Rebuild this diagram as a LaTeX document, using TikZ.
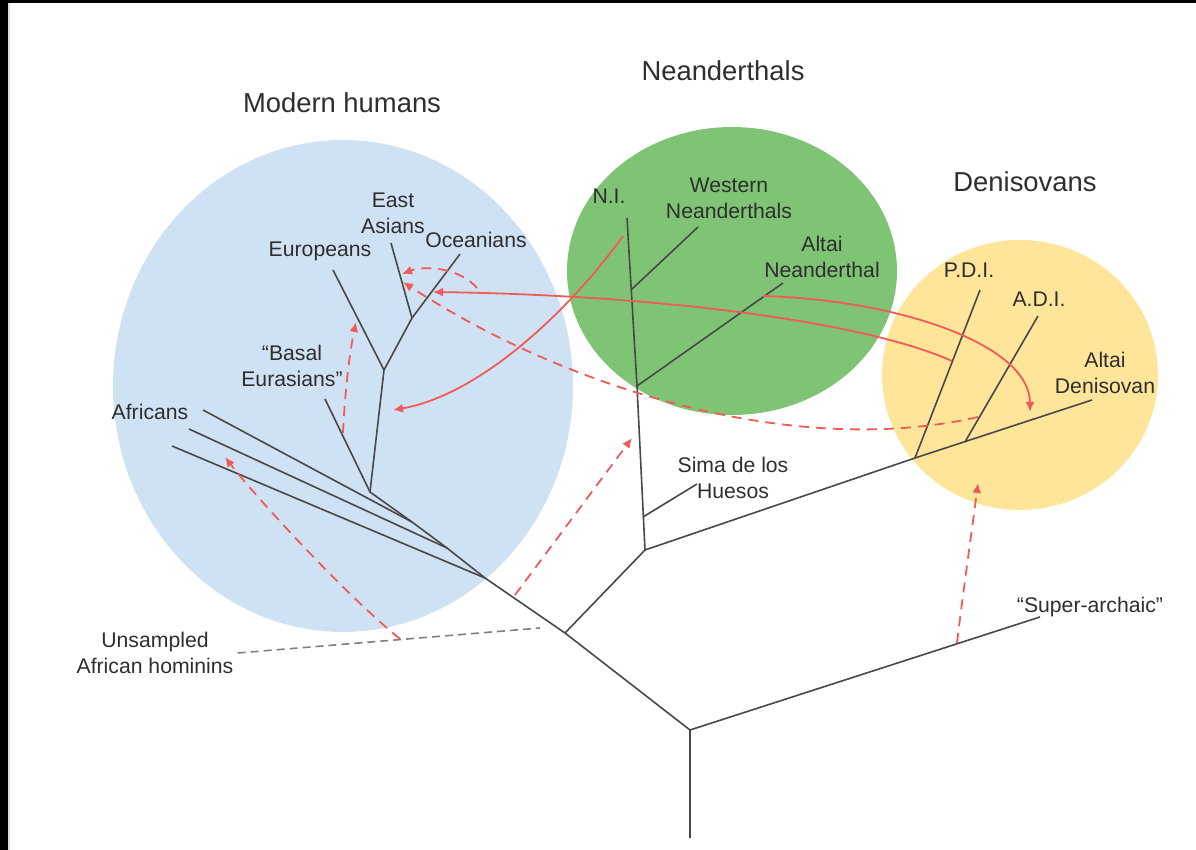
\documentclass[tikz,border=0pt]{standalone}
\usepackage{fontspec}
\setmainfont{Liberation Sans}
\usetikzlibrary{arrows.meta}
\definecolor{mhblue}{HTML}{CFE2F3}
\definecolor{neagreen}{HTML}{7FC474}
\definecolor{denyellow}{HTML}{FFE599}
\definecolor{flowred}{HTML}{F25A5A}
\definecolor{treegray}{HTML}{484848}
\definecolor{labelgray}{HTML}{2E2E2E}

\begin{document}
\begin{tikzpicture}[x=0.5pt, y=-0.5pt, >=Latex,
		branch/.style={draw=treegray, line width=0.8pt},
		flow/.style={->, draw=flowred, line width=0.9pt, >={Latex[length=5pt,width=4.5pt]}},
		ghostflow/.style={flow, dash pattern=on 5pt off 3.5pt},
		group/.style={font=\fontsize{13.7}{16}\selectfont, text=labelgray},
		taxon/.style={font=\fontsize{10.6}{13}\selectfont, text=labelgray, align=center, inner sep=0pt}]
		\useasboundingbox (0,0) rectangle (1196,850);
		
		% Frame edges
		\fill[black] (0,0) rectangle (8,850);
		\fill[black] (0,0) rectangle (1196,3);
		\fill[gray!25] (8,3) rectangle (10,850);
		
		% Groups
		\fill[mhblue] (343,386) ellipse [x radius=230, y radius=246];
		\fill[neagreen] (732,271) ellipse [x radius=165, y radius=144];
		\fill[denyellow] (1020,375) ellipse [x radius=138, y radius=135];
		
		% Tree nodes
		\coordinate (base) at (690,838);
		\coordinate (r0) at (690,730);
		\coordinate (sa) at (1040,617);
		\coordinate (j1) at (565,633);
		\coordinate (mh) at (485,578);
		\coordinate (a2) at (447,548);
		\coordinate (a3) at (412,522);
		\coordinate (eur) at (370,492);
		\coordinate (nd) at (645,550);
		\coordinate (nea) at (637,386);
		\coordinate (ni) at (627,218);
		\coordinate (wn0) at (631,290);
		\coordinate (wn) at (698,227);
		\coordinate (an) at (783,283);
		\coordinate (sh0) at (643,517);
		\coordinate (sh) at (697,484);
		\coordinate (den) at (915,458);
		\coordinate (ad) at (1092,400);
		\coordinate (pdi) at (980,290);
		\coordinate (adi0) at (965,442);
		\coordinate (adi) at (1038,316);
		\coordinate (ea) at (384,370);
		\coordinate (bas) at (325,399);
		\coordinate (eu) at (333,270);
		\coordinate (eao) at (412,318);
		\coordinate (eas) at (391,243);
		\coordinate (oc) at (460,254);
		\coordinate (af1) at (203,410);
		\coordinate (af2) at (189,429);
		\coordinate (af3) at (172,446);
		\coordinate (us) at (540,628);
		
		% Branches
		\draw[branch] (base) -- (r0) -- (sa);
		\draw[branch] (r0) -- (j1) -- (mh) -- (a2) -- (a3) -- (eur) -- (ea) -- (eu);
		\draw[branch] (ea) -- (eao) -- (oc);
		\draw[branch] (eao) -- (eas);
		\draw[branch] (eur) -- (bas);
		\foreach \j/\t in {a3/af1, a2/af2, mh/af3}
			\draw[branch] (\j) -- (\t);
		\draw[branch] (j1) -- (nd) -- (nea) -- (ni);
		\draw[branch] (wn0) -- (wn);
		\draw[branch] (nea) -- (an);
		\draw[branch] (sh0) -- (sh);
		\draw[branch] (nd) -- (den) -- (ad);
		\draw[branch] (den) -- (pdi);
		\draw[branch] (adi0) -- (adi);
		
		% Group names
		\node[group] (mhlab) at (342,103) {Modern humans};
		\node[group] (nealab) at (723,71) {Neanderthals};
		\node[group] (denlab) at (1025,182) {Denisovans};
		
		% Tip labels
		\node[taxon] (eastlab) at (393,213) {East\\Asians};
		\node[taxon] (eulab) at (320,251) {Europeans};
		\node[taxon] (oclab) at (476,240) {Oceanians};
		\node[taxon] (baslab) at (292,366) {``Basal\\Eurasians''};
		\node[taxon] (aflab) at (150,412) {Africans};
		\node[taxon] (nilab) at (609,196) {N.I.};
		\node[taxon] (wnlab) at (729,198) {Western\\Neanderthals};
		\node[taxon] (anlab) at (822,257) {Altai\\Neanderthal};
		\node[taxon] (pdilab) at (969,270) {P.D.I.};
		\node[taxon] (adilab) at (1039,299) {A.D.I.};
		\node[taxon] (adlab) at (1105,373) {Altai\\Denisovan};
		\node[taxon] (shlab) at (733,478) {Sima de los\\Huesos};
		\node[taxon] (salab) at (1090,607) {``Super-archaic''};
		\node[taxon] (uslab) at (155,653) {Unsampled\\African hominins};
		
		% Unsampled lineage
		\draw[branch, dash pattern=on 4pt off 2.5pt, draw=gray] (uslab.east) ++(4,0) -- (us);
		
		% Gene flow, sampled
		\coordinate (f1s) at (623,236);
		\coordinate (f1e) at (393,410);
		\coordinate (f2s) at (952,361);
		\coordinate (f2e) at (433,292);
		\coordinate (f3s) at (763,296);
		\coordinate (f3e) at (1030,412);
		\draw[flow] (f1s) .. controls (570,310) and (480,395) .. (f1e);
		\draw[flow] (f2s) .. controls (860,320) and (650,295) .. (f2e);
		\draw[flow] (f3s) .. controls (900,300) and (1030,345) .. (f3e);
		
		% Gene flow, inferred
		\coordinate (g1s) at (978,417);
		\coordinate (g1e) at (403,282);
		\coordinate (g2s) at (477,288);
		\coordinate (g2e) at (402,274);
		\coordinate (g3s) at (343,433);
		\coordinate (g3e) at (356,322);
		\coordinate (g4s) at (400,639);
		\coordinate (g4e) at (225,457);
		\coordinate (g5s) at (515,595);
		\coordinate (g5e) at (632,438);
		\coordinate (g6s) at (957,643);
		\coordinate (g6e) at (978,483);
		\draw[ghostflow] (g1s) .. controls (790,460) and (560,385) .. (g1e);
		\draw[ghostflow] (g2s) .. controls (460,268) and (425,265) .. (g2e);
		\draw[ghostflow] (g3s) .. controls (345,390) and (350,350) .. (g3e);
		\draw[ghostflow] (g4s) .. controls (340,590) and (250,490) .. (g4e);
		\draw[ghostflow] (g5s) -- (g5e);
		\draw[ghostflow] (g6s) .. controls (962,600) and (972,530) .. (g6e);
		
	\end{tikzpicture}
\end{document}
